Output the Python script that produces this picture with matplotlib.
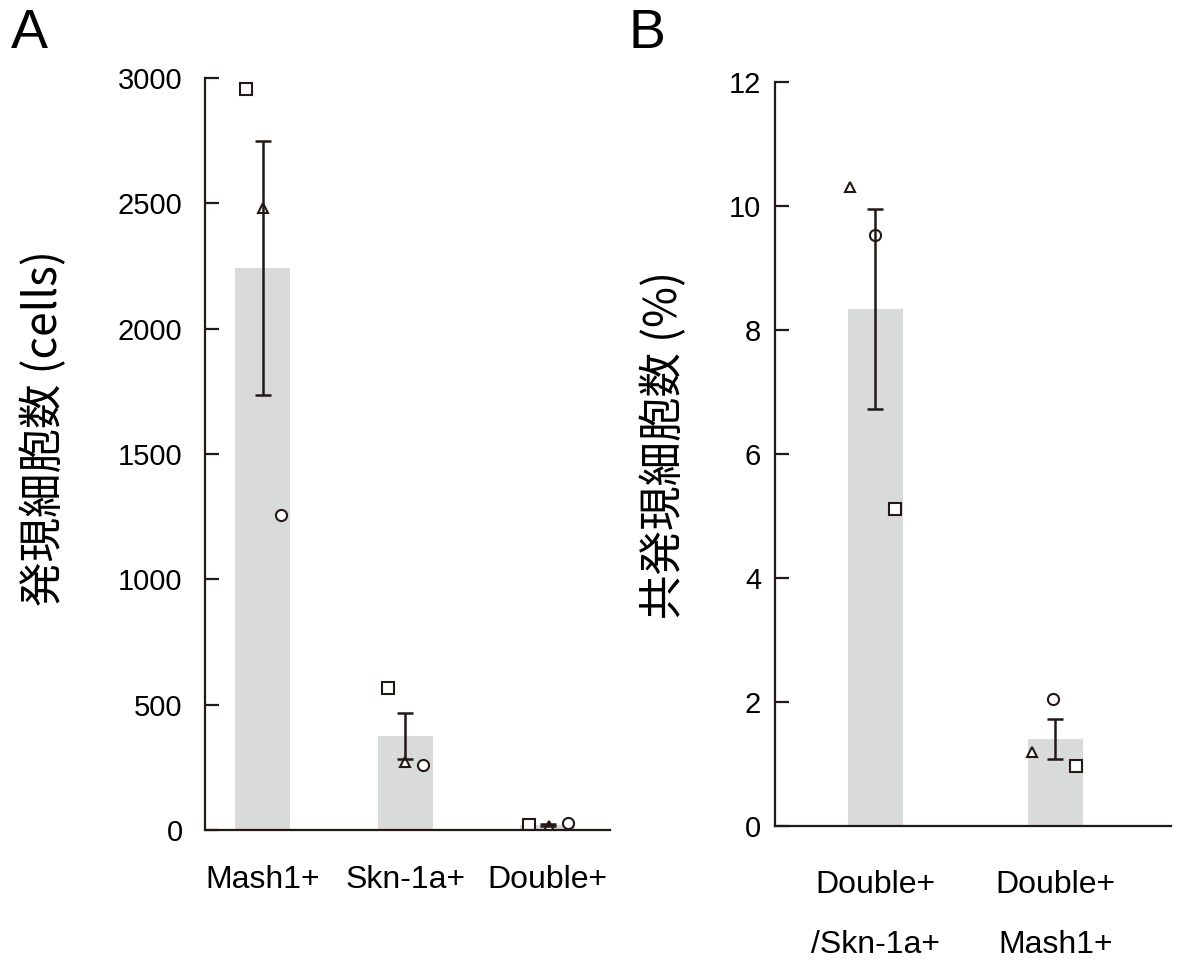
import matplotlib
matplotlib.use('Agg')
import matplotlib.pyplot as plt

plt.rcParams['font.family'] = ['Liberation Sans', 'Noto Sans CJK JP', 'DejaVu Sans']

# panel A: cell counts
a_groups = ['Mash1+', 'Skn-1a+', 'Double+']
a_mean = [2242, 375, 21]
a_sem = [506, 92, 4]
a_square = [2956, 566, 20]
a_triangle = [2481, 271, 16]
a_circle = [1256, 259, 28]

# panel B: co-expression ratio (%)
b_groups = ['Double+\n/Skn-1a+', 'Double+\nMash1+']
b_mean = [8.34, 1.40]
b_sem = [1.61, 0.32]
b_square = [5.11, 0.97]
b_triangle = [10.30, 1.19]
b_circle = [9.53, 2.05]

ink = '#231815'
bar_col = '#d9dada'

fig = plt.figure(figsize=(11.84, 9.65), dpi=100)
axA = fig.add_axes([0.173, 0.140, 0.342, 0.779])
axB = fig.add_axes([0.6546, 0.144, 0.334, 0.771])


def draw(ax, groups, mean, sem, sq, tri, circ, width, offs):
    x = list(range(len(groups)))
    ax.bar(x, mean, width=width, color=bar_col, zorder=1)
    mk = dict(mfc='white', mec=ink, mew=1.5, ls='none', zorder=2)
    ax.plot([i + o for i, o in zip(x, offs[0])], sq, marker='s', ms=8, **mk)
    ax.plot([i + o for i, o in zip(x, offs[1])], tri, marker='^', ms=7, **mk)
    ax.plot([i + o for i, o in zip(x, offs[2])], circ, marker='o', ms=8, **mk)
    ax.errorbar(x, mean, yerr=sem, fmt='none', ecolor=ink, elinewidth=1.8,
                capsize=6, capthick=1.8, zorder=3)
    for s in ['top', 'right']:
        ax.spines[s].set_visible(False)
    for s in ['left', 'bottom']:
        ax.spines[s].set_color(ink)
        ax.spines[s].set_linewidth(1.6)
    ax.set_xticks(x)
    ax.set_xticklabels(groups, fontsize=23, linespacing=2.3)
    ax.tick_params(axis='x', length=0)
    ax.tick_params(axis='y', direction='in', length=10, width=1.6,
                   color=ink, labelsize=21)


draw(axA, a_groups, a_mean, a_sem, a_square, a_triangle, a_circle, 0.386,
     [[-0.12, -0.12, -0.13], [0, 0, 0.01], [0.126, 0.126, 0.14]])
axA.set_xlim(-0.407, 2.435)
axA.set_ylim(0, 3000)
axA.set_yticks([0, 500, 1000, 1500, 2000, 2500, 3000])
axA.tick_params(axis='y', pad=16)
axA.tick_params(axis='x', pad=25)
axA.set_ylabel('発現細胞数 (cells)', fontsize=32,
               family=['Noto Sans CJK JP', 'DejaVu Sans'])
axA.yaxis.set_label_coords(-0.341, 0.535)

draw(axB, b_groups, b_mean, b_sem, b_square, b_triangle, b_circle, 0.306,
     [[0.11, 0.117], [-0.14, -0.128], [0, -0.01]])
axB.set_xlim(-0.556, 1.64)
axB.set_ylim(0, 12)
axB.set_yticks([0, 2, 4, 6, 8, 10, 12])
axB.tick_params(axis='y', pad=10)
axB.tick_params(axis='x', pad=32)
axB.set_ylabel('共発現細胞数 (%)', fontsize=32,
               family=['Noto Sans CJK JP', 'DejaVu Sans'])
axB.yaxis.set_label_coords(-0.223, 0.512)

fig.text(0.009, 0.950, 'A', fontsize=40, va='baseline')
fig.text(0.531, 0.950, 'B', fontsize=40, va='baseline')

fig.savefig('out.png', dpi=100)
